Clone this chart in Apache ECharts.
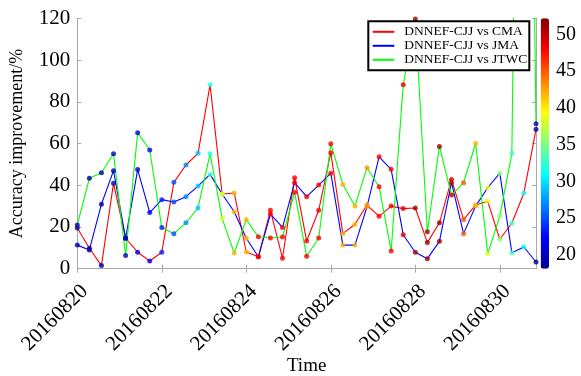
<!DOCTYPE html>
<html>
<head>
<meta charset="utf-8">
<script src="https://cdn.jsdelivr.net/npm/echarts@6/dist/echarts.min.js"></script>
<style>
html, body { margin: 0; padding: 0; background: #fff; }
#main { width: 581px; height: 376px; }
</style>
</head>
<body>
<div id="main"></div>
<script>
// tick labels on the time axis (one every 7 samples)
var xTickLabels = ['20160820', '20160822', '20160824', '20160826', '20160828', '20160830'];
var yTicks = [0, 20, 40, 60, 80, 100, 120];
var colorTicks = [20, 25, 30, 35, 40, 45, 50];

// accuracy improvement (%) of DNNEF-CJJ against each agency
var cma = [19.5, 9.8, 1.5, 40.9, 14.6, 7.9, 3.7, 7.9, 41.4, 49.7, 55.3, 88.1, 35.8, 36.3, 8.0, 5.7, 28.0, 5.0, 43.6, 13.3,
    28.0, 55.6, 16.8, 21.3, 30.5, 25.1, 30.0, 28.8, 29.1, 12.5, 22.0, 42.8, 23.5, 30.5, 32.3, 14.1, 21.8, 36.3, 66.8];
var jma = [11.3, 9.0, 30.9, 47.0, 14.6, 47.5, 26.9, 33.1, 32.0, 34.5, 39.6, 45.2, 35.8, 27.3, 14.6, 5.7, 26.2, 19.8, 41.2, 34.5,
    40.1, 45.8, 11.3, 11.3, 29.7, 53.6, 47.6, 16.3, 7.9, 4.8, 13.1, 41.2, 16.8, 30.0, 38.8, 45.8, 7.7, 10.4, 3.2];
var jtwc = [21.0, 43.3, 46.0, 55.1, 6.3, 65.2, 56.9, 19.7, 16.8, 22.0, 29.1, 55.1, 24.0, 7.5, 23.5, 15.3, 14.7, 15.2, 36.6, 6.0,
    14.7, 59.9, 40.4, 30.0, 48.4, 39.3, 8.5, 88.2, 119.7, 17.7, 58.6, 35.3, 41.2, 60.0, 7.2, 25.2, 55.3, 520, 69.5];
// colour value of every sample (colorbar 18 - 52)
var intensity = [19, 19, 19, 19.5, 20, 21, 22, 23.5, 25, 27, 29, 32, 38, 42, 42, 48, 48, 48, 48, 48,
    48, 48, 42, 42, 43, 48, 48, 48.5, 51, 51, 51, 49.5, 45, 42, 38.5, 35.5, 33, 31, 18.5];

var seriesNames = ['DNNEF-CJJ vs CMA', 'DNNEF-CJJ vs JMA', 'DNNEF-CJJ vs JTWC'];
var lineColors = ['#ff0000', '#0000ff', '#00ff00'];

var categories = [];
for (var i = 0; i < cma.length; i++) {
    categories.push(String(i));
}

function withColor(values) {
    return values.map(function (v, i) {
        return [i, v, intensity[i]];
    });
}

var font = "'Liberation Serif', 'Times New Roman', serif";
var frame = '#a8a8a8';
var jet = ['#00008f', '#0000ff', '#0080ff', '#00ffff', '#80ff80', '#ffff00', '#ff8000', '#ff0000', '#800000'];

var myChart = echarts.init(document.getElementById('main'));

var lines = [cma, jma, jtwc].map(function (values, k) {
    return {
        name: seriesNames[k],
        type: 'line',
        symbol: 'none',
        data: values,
        lineStyle: { color: lineColors[k], width: 1.1 },
        itemStyle: { color: lineColors[k] },
        z: 2
    };
});
var dots = [cma, jma, jtwc].map(function (values, k) {
    return {
        name: 'dots' + k,
        type: 'scatter',
        symbolSize: 5,
        data: withColor(values),
        z: 3
    };
});

var option = {
    animation: false,
    backgroundColor: '#fff',
    grid: [
        { left: 77.3, top: 18.3, width: 458.7, height: 250.4, outerBoundsMode: 'none' },
        { left: 540.7, top: 18.3, width: 8.3, height: 250.4, outerBoundsMode: 'none' } // colorbar labels
    ],
    legend: {
        data: seriesNames,
        orient: 'vertical',
        left: 368.3,
        top: 21.3,
        padding: [3.5, 2, 3.5, 3.4],
        itemWidth: 21.6,
        itemHeight: 14.3,
        itemGap: 0,
        itemStyle: { opacity: 0 }, // line only, no marker
        backgroundColor: '#fff',
        borderColor: '#000',
        borderWidth: 2,
        textStyle: { fontFamily: font, fontSize: 13.5, color: '#000', padding: [0, 0, 0, 5] }
    },
    visualMap: {
        type: 'continuous',
        min: 18.14,
        max: 52.17,
        dimension: 2,
        seriesIndex: [3, 4, 5],
        calculable: false,
        left: 540.7,
        top: 18.3,
        padding: 0,
        itemWidth: 8.3,
        itemHeight: 250.4,
        inRange: { color: jet }
    },
    xAxis: [{
        type: 'category',
        gridIndex: 0,
        position: 'bottom',
        data: categories,
        boundaryGap: false,
        axisLine: { lineStyle: { color: frame } },
        axisTick: { inside: true, interval: 6, length: 4, lineStyle: { color: frame } },
        axisLabel: {
            interval: 6,
            rotate: 45,
            margin: 12,
            verticalAlign: 'top',
            fontFamily: font,
            fontSize: 21,
            color: '#000',
            formatter: function (v, i) {
                return i % 7 === 0 ? xTickLabels[i / 7] : '';
            }
        },
        name: 'Time',
        nameLocation: 'middle',
        nameGap: 88,
        nameMoveOverlap: false,
        nameTextStyle: { fontFamily: font, fontSize: 19, color: '#000' }
    }, {
        type: 'category',
        gridIndex: 0,
        position: 'top',
        data: categories,
        boundaryGap: false,
        axisLine: { lineStyle: { color: frame } },
        axisTick: { inside: true, interval: 6, length: 4, lineStyle: { color: frame } },
        axisLabel: { show: false }
    }, {
        type: 'value',
        gridIndex: 1,
        show: false
    }],
    yAxis: [{
        type: 'value',
        gridIndex: 0,
        position: 'left',
        min: yTicks[0],
        max: yTicks[yTicks.length - 1],
        interval: 20,
        axisLine: { show: true, lineStyle: { color: frame } },
        axisTick: { show: true, inside: true, length: 4, lineStyle: { color: frame } },
        splitLine: { show: false },
        axisLabel: { fontFamily: font, fontSize: 21, color: '#000', margin: 7 },
        name: 'Accuracy improvement/%',
        nameLocation: 'middle',
        nameGap: 51,
        nameMoveOverlap: false,
        nameTextStyle: { fontFamily: font, fontSize: 18, color: '#000' }
    }, {
        type: 'value',
        gridIndex: 0,
        position: 'right',
        min: yTicks[0],
        max: yTicks[yTicks.length - 1],
        interval: 20,
        axisLine: { show: true, lineStyle: { color: frame } },
        axisTick: { show: true, inside: true, length: 4, lineStyle: { color: frame } },
        splitLine: { show: false },
        axisLabel: { show: false }
    }, {
        // labels beside the colorbar
        type: 'value',
        gridIndex: 1,
        position: 'right',
        min: 18.14,
        max: 52.17,
        axisLine: { show: false },
        axisTick: { show: false },
        splitLine: { show: false },
        axisLabel: {
            customValues: colorTicks,
            fontFamily: font,
            fontSize: 20,
            color: '#000',
            margin: 7
        }
    }],
    series: lines.concat(dots)
};
myChart.setOption(option);
</script>
</body>
</html>
